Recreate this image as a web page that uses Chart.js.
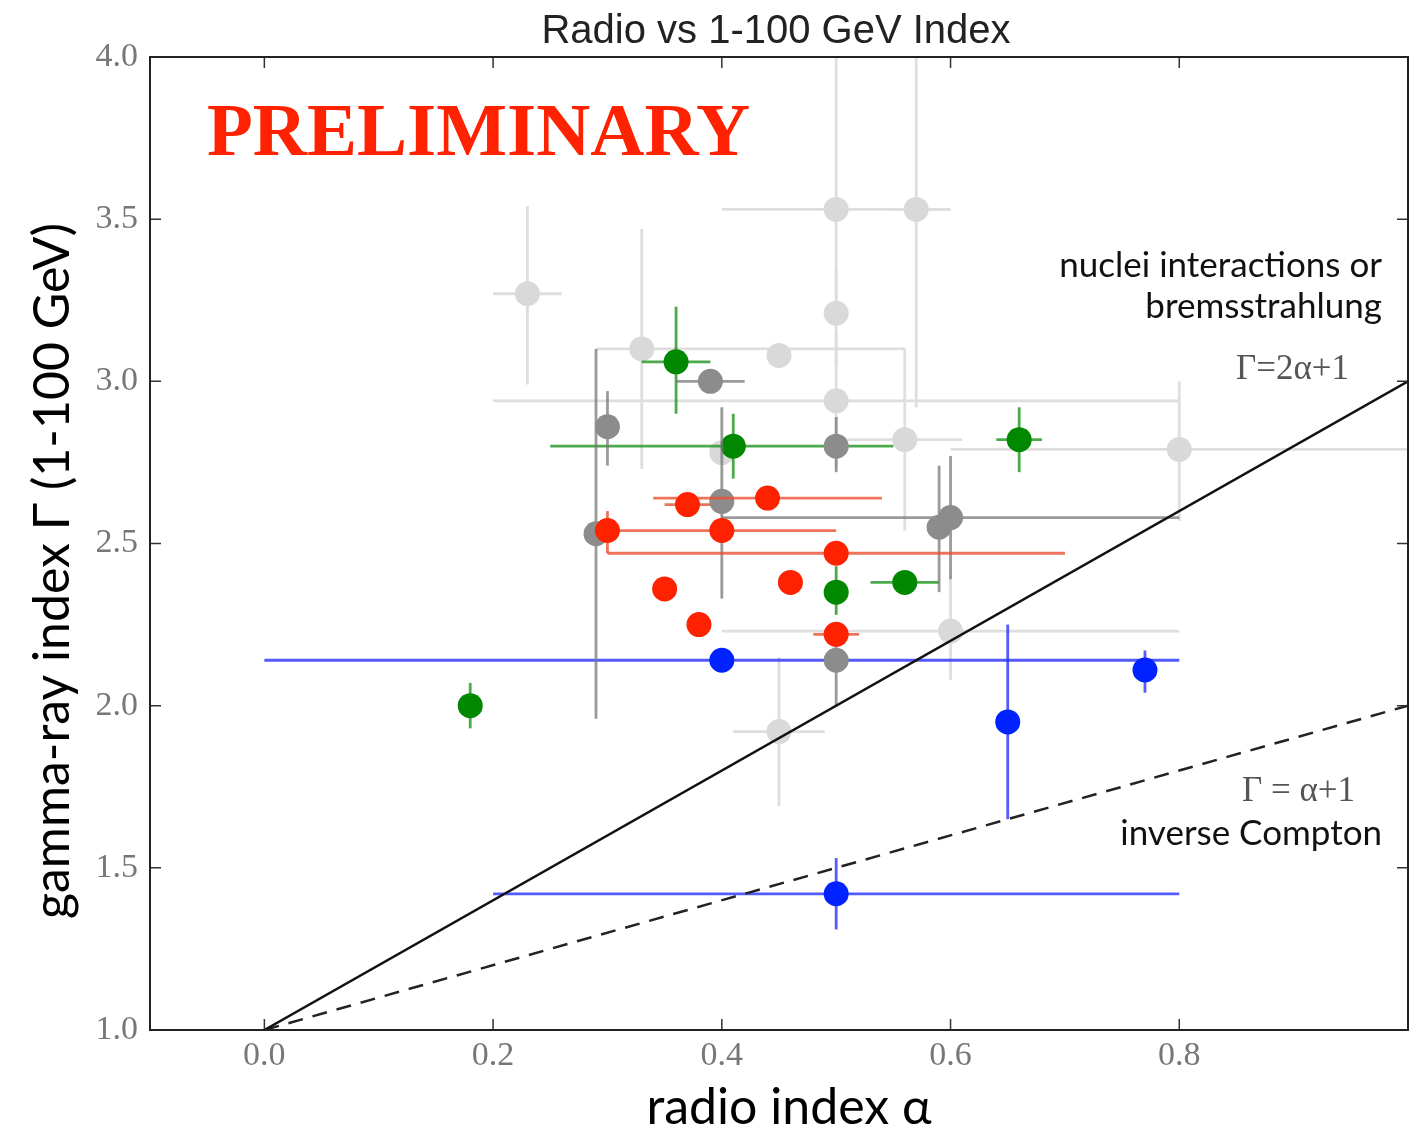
<!DOCTYPE html>
<html>
<head>
<meta charset="utf-8">
<script src="https://cdn.jsdelivr.net/npm/chart.js@4.4.1/dist/chart.umd.min.js"></script>
<style>
  html, body { margin: 0; padding: 0; background: #fff; }
  #wrap { width: 1424px; height: 1129px; }
</style>
</head>
<body>
<div id="wrap"><canvas id="myChart" width="1424" height="1129"></canvas></div>
<script>
// axis ticks
const xTicks = [0.0, 0.2, 0.4, 0.6, 0.8];
const yTicks = [1.0, 1.5, 2.0, 2.5, 3.0, 3.5, 4.0];

// model lines: Gamma = 2a+1 and Gamma = a+1
const modelX = [0.0, 1.0];
const bremsY = [1.0, 3.0];
const icY = [1.0, 2.0];

// light grey sources
const lightX   = [0.23, 0.33, 0.45, 0.50, 0.57, 0.50, 0.50, 0.56, 0.40, 0.80, 0.60, 0.45];
const lightY   = [3.27, 3.10, 3.08, 3.53, 3.53, 3.21, 2.94, 2.82, 2.78, 2.79, 2.23, 1.92];
const lightXLo = [0.20, 0.29, null, 0.40, 0.55, null, 0.20, 0.51, null, 0.60, 0.40, 0.41];
const lightXHi = [0.26, 0.56, null, 0.60, 0.60, null, 0.80, 0.61, null, 1.05, 0.80, 0.49];
const lightYLo = [2.99, 2.73, null, 3.25, 2.92, 3.05, 2.73, 2.54, null, 2.57, 2.08, 1.69];
const lightYHi = [3.54, 3.47, null, 4.30, 4.30, 3.35, 3.15, 3.10, null, 3.00, 2.40, 2.15];

// dark grey sources
const darkX   = [0.30, 0.39, 0.50, 0.40, 0.29, 0.59, 0.60, 0.50];
const darkY   = [2.86, 3.00, 2.80, 2.63, 2.53, 2.55, 2.58, 2.14];
const darkXLo = [null, 0.36, null, null, null, null, 0.40, null];
const darkXHi = [null, 0.42, null, null, null, null, 0.80, null];
const darkYLo = [2.74, null, 2.72, 2.33, 1.96, 2.35, 2.39, 2.00];
const darkYHi = [2.97, null, 2.89, 2.92, 3.10, 2.74, 2.77, 2.24];

// green sources
const greenX   = [0.36, 0.41, 0.66, 0.56, 0.50, 0.18];
const greenY   = [3.06, 2.80, 2.82, 2.38, 2.35, 2.00];
const greenXLo = [0.33, 0.25, 0.64, 0.53, null, null];
const greenXHi = [0.39, 0.55, 0.68, 0.59, null, null];
const greenYLo = [2.90, 2.70, 2.72, null, 2.28, 1.93];
const greenYHi = [3.23, 2.90, 2.92, null, 2.43, 2.07];

// red sources
const redX   = [0.30, 0.37, 0.40, 0.44, 0.50, 0.35, 0.46, 0.38, 0.50];
const redY   = [2.54, 2.62, 2.54, 2.64, 2.47, 2.36, 2.38, 2.25, 2.22];
const redXLo = [null, 0.35, 0.30, 0.34, 0.30, null, null, null, 0.48];
const redXHi = [null, 0.39, 0.50, 0.54, 0.70, null, null, null, 0.52];
const redYLo = [2.47, null, null, null, null, null, null, null, null];
const redYHi = [2.60, null, null, null, null, null, null, null, null];

// blue sources
const blueX   = [0.40, 0.65, 0.77, 0.50];
const blueY   = [2.14, 1.95, 2.11, 1.42];
const blueXLo = [0.00, null, null, 0.20];
const blueXHi = [0.80, null, null, 0.80];
const blueYLo = [null, 1.65, 2.04, 1.31];
const blueYHi = [null, 2.25, 2.17, 1.53];

const pts = (xs, ys) => xs.map((v, i) => ({ x: v, y: ys[i] }));

let makeSeries = (label, xs, ys, xlo, xhi, ylo, yhi, color, barColor, order) => ({
    label: label,
    data: pts(xs, ys),
    err: { xlo: xlo, xhi: xhi, ylo: ylo, yhi: yhi },
    barColor: barColor,
    backgroundColor: color,
    borderWidth: 0,
    pointRadius: 12.5,
    pointHoverRadius: 12.5,
    showLine: false,
    order: order
});

// draws error bars right before each dataset so layering is kept
const errorBars = {
    id: 'errorBars',
    beforeDatasetDraw(chart, args) {
        const ds = chart.data.datasets[args.index];
        if (!ds.err) return;
        const { ctx, chartArea: a } = chart;
        const xs = chart.scales.x, ys = chart.scales.y;
        const e = ds.err;
        ctx.save();
        ctx.beginPath();
        ctx.rect(a.left, a.top, a.right - a.left, a.bottom - a.top);
        ctx.clip();
        ctx.strokeStyle = ds.barColor;
        ctx.lineWidth = 2.8;
        ds.data.forEach((p, i) => {
            const px = xs.getPixelForValue(p.x);
            const py = ys.getPixelForValue(p.y);
            if (e.xlo[i] != null) {
                ctx.beginPath();
                ctx.moveTo(xs.getPixelForValue(e.xlo[i]), py);
                ctx.lineTo(xs.getPixelForValue(e.xhi[i]), py);
                ctx.stroke();
            }
            if (e.ylo[i] != null) {
                ctx.beginPath();
                ctx.moveTo(px, ys.getPixelForValue(e.ylo[i]));
                ctx.lineTo(px, ys.getPixelForValue(e.yhi[i]));
                ctx.stroke();
            }
        });
        ctx.restore();
    }
};

// matplotlib-like frame with inward ticks, plus all the text
const frameAndText = {
    id: 'frameAndText',
    afterDatasetsDraw(chart) {
        const { ctx, chartArea: a } = chart;
        const xs = chart.scales.x, ys = chart.scales.y;
        ctx.save();
        ctx.strokeStyle = '#333';
        ctx.lineWidth = 1.5;
        xTicks.forEach(v => {
            const px = xs.getPixelForValue(v);
            ctx.beginPath();
            ctx.moveTo(px, a.bottom); ctx.lineTo(px, a.bottom - 11);
            ctx.moveTo(px, a.top); ctx.lineTo(px, a.top + 11);
            ctx.stroke();
        });
        yTicks.forEach(v => {
            const py = ys.getPixelForValue(v);
            ctx.beginPath();
            ctx.moveTo(a.left, py); ctx.lineTo(a.left + 11, py);
            ctx.moveTo(a.right, py); ctx.lineTo(a.right - 11, py);
            ctx.stroke();
        });
        ctx.strokeStyle = '#222';
        ctx.lineWidth = 2;
        ctx.strokeRect(a.left, a.top, a.right - a.left, a.bottom - a.top);

        // title
        ctx.fillStyle = '#222';
        ctx.textAlign = 'center';
        ctx.textBaseline = 'alphabetic';
        ctx.font = '40px "Liberation Sans"';
        ctx.fillText('Radio vs 1-100 GeV Index', 776, 43);

        // watermark
        ctx.fillStyle = '#ff2200';
        ctx.textAlign = 'left';
        ctx.font = 'bold 75px "Liberation Serif"';
        ctx.fillText('PRELIMINARY', 207, 155);

        // annotations
        ctx.fillStyle = '#111';
        ctx.textAlign = 'right';
        ctx.font = '35px Lato';
        ctx.fillText('nuclei interactions or', 1382, 277);
        ctx.fillText('bremsstrahlung', 1382, 318);
        ctx.fillText('inverse Compton', 1382, 845);
        ctx.fillStyle = '#555';
        ctx.font = '35px "Liberation Serif"';
        ctx.fillText('\u0393=2\u03b1+1', 1349, 379);
        ctx.fillText('\u0393 = \u03b1+1', 1355, 801);

        // axis titles
        ctx.fillStyle = '#000';
        ctx.font = '50px Lato';
        ctx.textAlign = 'center';
        ctx.fillText('radio index \u03b1', 789, 1124);
        ctx.translate(69, 571);
        ctx.rotate(-Math.PI / 2);
        ctx.fillText('gamma-ray index \u0393 (1-100 GeV)', 0, 0);
        ctx.restore();
    }
};

let ctx = document.getElementById('myChart').getContext('2d');
let chart = new Chart(ctx, {
    type: 'scatter',
    data: {
        datasets: [
            {
                label: 'brems',
                data: pts(modelX, bremsY),
                showLine: true,
                borderColor: '#111',
                borderWidth: 2.5,
                pointRadius: 0,
                order: 0
            },
            {
                label: 'ic',
                data: pts(modelX, icY),
                showLine: true,
                borderColor: '#222',
                borderWidth: 2.5,
                borderDash: [15, 10],
                pointRadius: 0,
                order: 0
            },
            makeSeries('red', redX, redY, redXLo, redXHi, redYLo, redYHi, '#ff2200', 'rgba(232, 80, 50, 0.8)', 1),
            makeSeries('dark', darkX, darkY, darkXLo, darkXHi, darkYLo, darkYHi, '#8c8c8c', 'rgba(120, 120, 120, 0.75)', 2),
            makeSeries('green', greenX, greenY, greenXLo, greenXHi, greenYLo, greenYHi, '#008800', 'rgba(30, 150, 30, 0.8)', 3),
            makeSeries('blue', blueX, blueY, blueXLo, blueXHi, blueYLo, blueYHi, '#0022ff', 'rgba(40, 50, 255, 0.8)', 4),
            makeSeries('light', lightX, lightY, lightXLo, lightXHi, lightYLo, lightYHi, '#d9d9d9', '#dedede', 5)
        ]
    },
    options: {
        responsive: false,
        animation: false,
        devicePixelRatio: 1,
        layout: { padding: { top: 57, right: 16, left: 0, bottom: 0 } },
        plugins: {
            legend: { display: false },
            tooltip: { enabled: false },
            title: { display: false }
        },
        scales: {
            x: {
                type: 'linear',
                min: -0.1,
                max: 1.0,
                afterBuildTicks: scale => { scale.ticks = xTicks.map(v => ({ value: v })); },
                afterFit: scale => { scale.height = 99; },
                grid: { display: false, drawTicks: false },
                border: { display: false },
                ticks: {
                    color: '#777',
                    padding: 6,
                    maxRotation: 0,
                    font: { family: 'Liberation Serif', size: 34 },
                    callback: v => v.toFixed(1)
                }
            },
            y: {
                type: 'linear',
                min: 1.0,
                max: 4.0,
                afterBuildTicks: scale => { scale.ticks = yTicks.map(v => ({ value: v })); },
                afterFit: scale => { scale.width = 150; },
                grid: { display: false, drawTicks: false },
                border: { display: false },
                ticks: {
                    color: '#777',
                    padding: 12,
                    font: { family: 'Liberation Serif', size: 34 },
                    callback: v => v.toFixed(1)
                }
            }
        }
    },
    plugins: [errorBars, frameAndText]
});
</script>
</body>
</html>
